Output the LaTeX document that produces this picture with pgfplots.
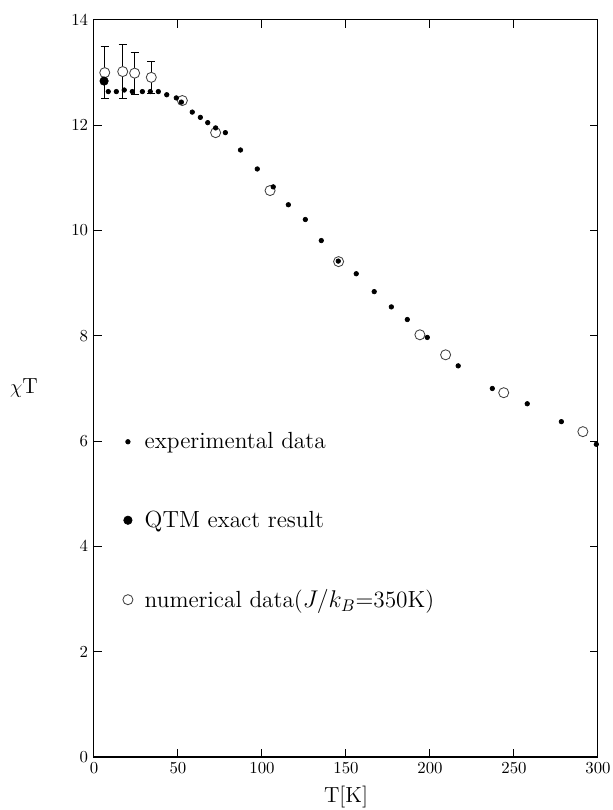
\documentclass[border=0pt]{standalone}
\usepackage{pgfplots}
\pgfplotsset{compat=1.18}
\begin{document}
\begin{tikzpicture}
\begin{axis}[
  scale only axis, width=300pt, height=438.7pt,
  xmin=0, xmax=300, ymin=0, ymax=14,
  xtick={0,50,...,300}, ytick={0,2,...,14},
  tick align=inside, major tick length=5pt,
  axis line style={line width=0.6pt}, every tick/.style={black, line width=0.6pt},
  clip=false,
  xlabel={T[K]}, ylabel={$\chi$T},
  xlabel style={at={(axis description cs:0.5,0)}, anchor=center, yshift=-23.8pt, font=\fontsize{13}{15}\selectfont},
  ylabel style={rotate=-90, at={(axis description cs:-0.139,0.5)}, anchor=center, font=\fontsize{13}{15}\selectfont},
  legend style={at={(axis cs:14,6.3)}, anchor=north west, draw=none, fill=none, row sep=31.5pt, column sep=5pt, font=\fontsize{13.9}{16}\selectfont},
  legend cell align=left,
]
% error bars of the numerical data
\addplot[black, only marks, mark=none, forget plot,
  error bars/.cd, y dir=both, y explicit,
  error bar style={black, line width=0.6pt},
  error mark options={rotate=90, mark size=2.4pt, black, line width=0.6pt}]
  coordinates {
  (6.4,13.00) +- (0,0.50)
  (17.1,13.02) +- (0,0.51)
  (24.2,12.99) +- (0,0.40)
  (34.1,12.91) +- (0,0.31)
};
% numerical data (open circles)
\addplot[only marks, mark=*, mark size=3pt, mark options={draw=black!75, fill=white, line width=0.5pt}, forget plot]
  coordinates {
  (6.4,13.00) (17.1,13.02) (24.2,12.99) (34.1,12.91) (52.6,12.47) (72.4,11.86)
  (104.8,10.76) (145.6,9.41) (194.0,8.02) (209.3,7.64) (243.9,6.92) (291.0,6.18)
};
% experimental data
\addplot[only marks, mark=*, mark size=1.35pt, black]
  coordinates {
  (8.5,12.64) (13.3,12.64) (18.0,12.67) (22.8,12.64) (28.8,12.64) (33.5,12.64)
  (38.3,12.64) (43.3,12.58) (49.0,12.52) (52.0,12.44) (58.5,12.25) (63.3,12.15)
  (67.7,12.05) (72.4,11.95) (78.2,11.86) (87.2,11.53) (97.2,11.17) (106.7,10.83)
  (115.7,10.49) (125.8,10.21) (135.3,9.81) (145.4,9.42) (156.1,9.18) (166.8,8.84)
  (177.0,8.55) (186.5,8.31) (198.4,7.97) (216.8,7.43) (237.1,7.00) (257.9,6.71)
  (278.2,6.37) (299.0,5.94)
};
\addlegendentry{experimental data}
% QTM exact result
\addplot[only marks, mark=*, mark size=2.5pt, black]
  coordinates {(6.0,12.84)};
\addlegendentry{QTM exact result}
\addlegendimage{only marks, mark=*, mark size=3pt, mark options={draw=black!75, fill=white, line width=0.5pt}}
\addlegendentry{numerical data($J/k_B$=350K)}
\end{axis}
\pgfresetboundingbox
\useasboundingbox (-55.95pt,-31.55pt) rectangle (308.9pt,450.6pt);
\end{tikzpicture}
\end{document}
